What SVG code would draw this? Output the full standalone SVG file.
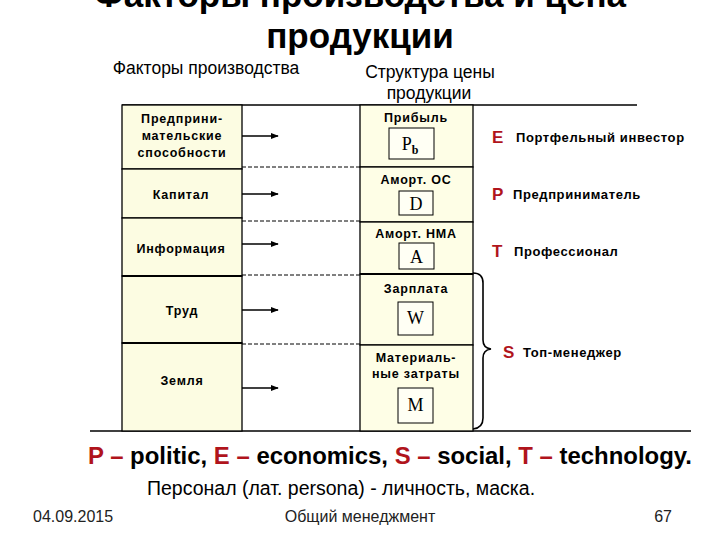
<svg xmlns="http://www.w3.org/2000/svg" width="720" height="540" viewBox="0 0 720 540">
<defs>
<style>
.t{font-family:"Liberation Sans",Arial,sans-serif;fill:#000}
.b{font-weight:bold}
.cell{font-family:"Liberation Sans",Arial,sans-serif;font-weight:bold;font-size:12.5px;text-anchor:middle;letter-spacing:0.8px}
.sym{font-family:"Liberation Serif","Times New Roman",serif;font-size:18px;text-anchor:middle}
.red{fill:#b0141c}
.role{font-family:"Liberation Sans",Arial,sans-serif;font-weight:bold;font-size:13px;letter-spacing:0.6px;fill:#000}
.lc{fill:#fcfce2;stroke:#000;stroke-width:1.3}
.rc{fill:#fefee6;stroke:#000;stroke-width:1.3}
.box{fill:#fffff4;stroke:#000;stroke-width:1}
.dash{stroke:#000;stroke-width:1;stroke-dasharray:4,2;fill:none}
.arr{stroke:#000;stroke-width:1.6;fill:none;marker-end:url(#ah)}
.foot{font-family:"Liberation Sans",Arial,sans-serif;font-size:16px;fill:#222}
</style>
<marker id="ah" viewBox="0 0 10 10" refX="9" refY="5" markerWidth="5" markerHeight="5" orient="auto" markerUnits="strokeWidth">
<path d="M0,1 L10,5 L0,9 z" fill="#000"/>
</marker>
</defs>
<rect width="720" height="540" fill="#fff"/>
<g id="title">
<text class="t b" x="360" y="7" font-size="35" text-anchor="middle">Факторы производства и цена</text>
<text class="t b" x="360" y="48" font-size="35" text-anchor="middle">продукции</text>
</g>
<g id="headers">
<text class="t" x="206" y="74" font-size="17.5" text-anchor="middle">Факторы производства</text>
<text class="t" x="430" y="78" font-size="17.5" text-anchor="middle">Структура цены</text>
<text class="t" x="429" y="99" font-size="17.5" text-anchor="middle">продукции</text>
</g>
<g id="frame">
<line x1="122" y1="105" x2="637" y2="105" stroke="#000" stroke-width="1.3"/>
<line x1="90" y1="431" x2="691" y2="431" stroke="#000" stroke-width="1.5"/>
</g>
<g id="left-column">
<g id="f1"><rect class="lc" x="122" y="105" width="120" height="64"/>
<text class="cell" x="182" y="123">Предприни-</text>
<text class="cell" x="182" y="140">мательские</text>
<text class="cell" x="182" y="157">способности</text></g>
<g id="f2"><rect class="lc" x="122" y="169" width="120" height="49"/>
<text class="cell" x="181" y="199">Капитал</text></g>
<g id="f3"><rect class="lc" x="122" y="218" width="120" height="58"/>
<text class="cell" x="181" y="253">Информация</text></g>
<g id="f4"><rect class="lc" x="122" y="276" width="120" height="67"/>
<text class="cell" x="182" y="315">Труд</text></g>
<g id="f5"><rect class="lc" x="122" y="343" width="120" height="88"/>
<text class="cell" x="182" y="385">Земля</text></g>
<line x1="122" y1="276" x2="242" y2="276" stroke="#000" stroke-width="2.2"/>
<line x1="122" y1="343" x2="242" y2="343" stroke="#000" stroke-width="2.2"/>
</g>
<g id="right-column">
<g id="c1"><rect class="rc" x="360" y="105" width="113" height="62"/>
<text class="cell" x="416" y="122">Прибыль</text>
<rect class="box" x="389" y="128" width="45" height="31"/>
<text class="sym" x="410" y="150">P<tspan font-size="12" font-weight="bold" dy="4">b</tspan></text></g>
<g id="c2"><rect class="rc" x="360" y="167" width="113" height="55"/>
<text class="cell" x="416" y="184">Аморт. ОС</text>
<rect class="box" x="399" y="191" width="34" height="24"/>
<text class="sym" x="416" y="210">D</text></g>
<g id="c3"><rect class="rc" x="360" y="222" width="113" height="52"/>
<text class="cell" x="416" y="238">Аморт. НМА</text>
<rect class="box" x="399" y="243" width="35" height="26"/>
<text class="sym" x="416.5" y="263">A</text></g>
<g id="c4"><rect class="rc" x="360" y="274" width="113" height="71"/>
<text class="cell" x="416" y="293">Зарплата</text>
<rect class="box" x="398" y="302" width="35" height="33"/>
<text class="sym" x="415.5" y="324">W</text></g>
<g id="c5"><rect class="rc" x="360" y="345" width="113" height="86"/>
<text class="cell" x="416" y="362">Материаль-</text>
<text class="cell" x="416" y="378">ные затраты</text>
<rect class="box" x="398" y="388" width="35" height="35"/>
<text class="sym" x="415.5" y="411">M</text></g>
<line x1="360" y1="274" x2="473" y2="274" stroke="#000" stroke-width="2.2"/>
</g>
<g id="connectors">
<line class="dash" x1="242" y1="167" x2="360" y2="167"/>
<line class="dash" x1="242" y1="221" x2="360" y2="221"/>
<line class="dash" x1="242" y1="275" x2="360" y2="275"/>
<line class="dash" x1="242" y1="344" x2="360" y2="344"/>
<line class="arr" x1="242" y1="136" x2="278" y2="136"/>
<line class="arr" x1="242" y1="194" x2="278" y2="194"/>
<line class="arr" x1="242" y1="244" x2="278" y2="244"/>
<line class="arr" x1="242" y1="310" x2="278" y2="310"/>
<line class="arr" x1="242" y1="388" x2="278" y2="388"/>
<path d="M473,273 Q483,273 483,283 L483,340 Q483,348 491,349 Q483,350 483,358 L483,418 Q483,428 473,429" fill="none" stroke="#000" stroke-width="1.6"/>
</g>
<g id="roles">
<text class="t b red" x="492" y="143" font-size="17">E</text>
<text class="role" x="516" y="142">Портфельный инвестор</text>
<text class="t b red" x="492" y="200" font-size="17">P</text>
<text class="role" x="513" y="199">Предприниматель</text>
<text class="t b red" x="492" y="257" font-size="17">T</text>
<text class="role" x="514" y="256">Профессионал</text>
<text class="t b red" x="503" y="358" font-size="17">S</text>
<text class="role" x="523" y="357">Топ-менеджер</text>
</g>
<g id="legend">
<text class="t b" x="88" y="464" font-size="23.5" textLength="604" lengthAdjust="spacingAndGlyphs"><tspan class="red">P –</tspan> politic, <tspan class="red">E –</tspan> economics, <tspan class="red">S –</tspan> social, <tspan class="red">T –</tspan> technology.</text>
<text class="t" x="147" y="495" font-size="19.5">Персонал (лат. persona) - личность, маска.</text>
</g>
<g id="footer">
<text class="foot" x="33" y="522">04.09.2015</text>
<text class="foot" x="360" y="522" text-anchor="middle">Общий менеджмент</text>
<text class="foot" x="672" y="522" text-anchor="end">67</text>
</g>
</svg>
